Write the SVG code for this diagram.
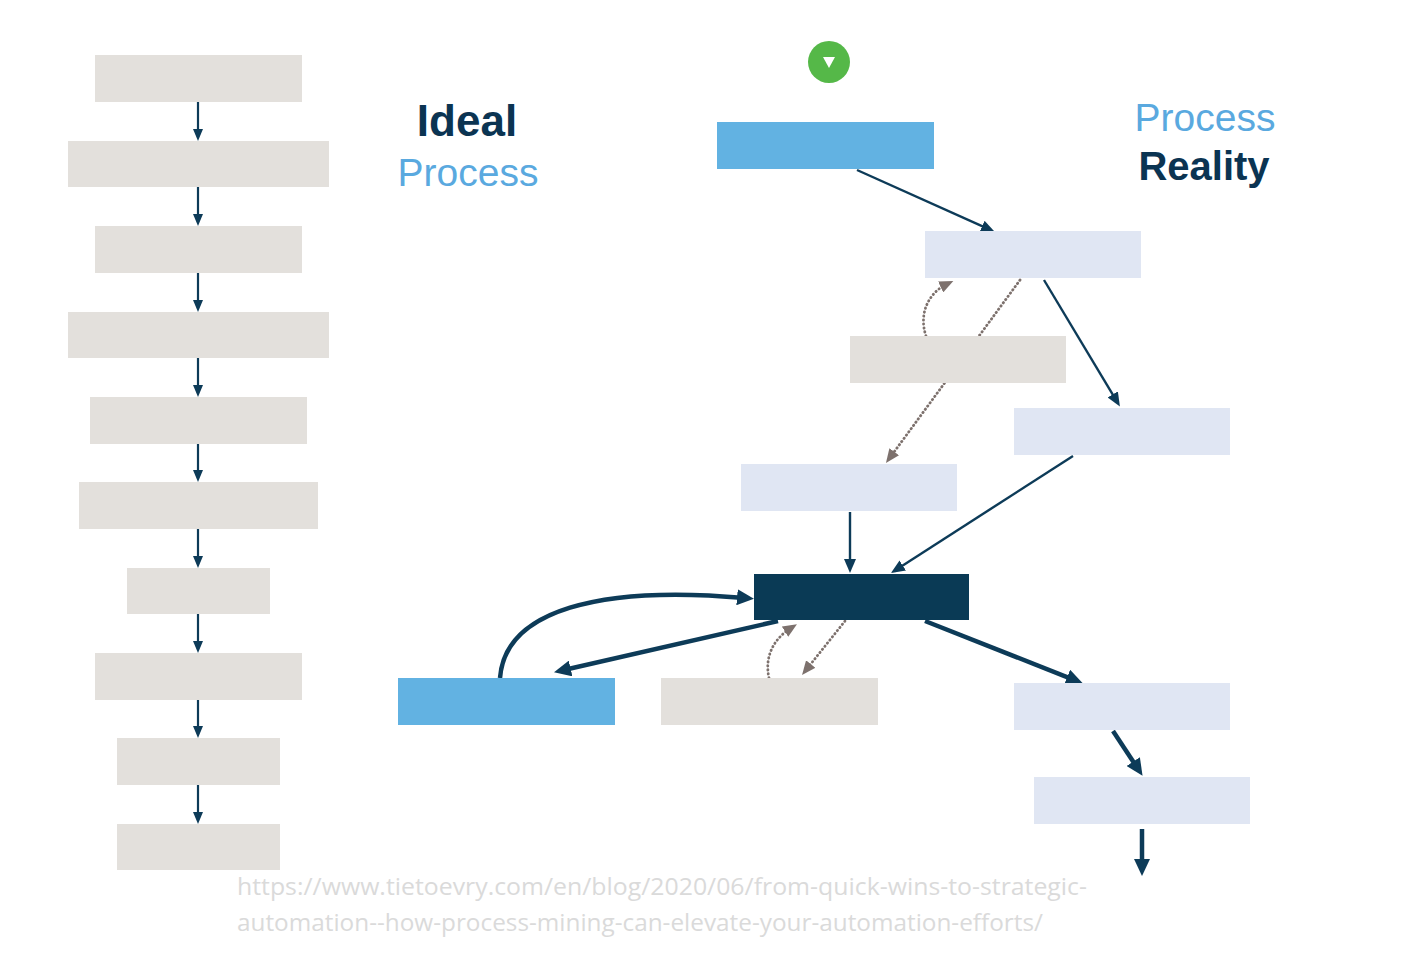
<svg xmlns="http://www.w3.org/2000/svg" width="1402" height="958" viewBox="0 0 1402 958">
<style>
.gray{fill:#E3E0DC}
.light{fill:#E0E6F3}
.blue{fill:#62B2E2}
.dark{fill:#0A3A55}
.thin{fill:none;stroke:#0D3B58;stroke-width:2.2;marker-end:url(#mThin)}
.mid{fill:none;stroke:#0D3B58;stroke-width:2.4;marker-end:url(#mMid)}
.thick{fill:none;stroke:#0D3B58;stroke-width:4.5;marker-end:url(#mThick)}
.dot{fill:none;stroke:#7D716D;stroke-width:2.8;stroke-linecap:round;stroke-dasharray:0.4 3.6;marker-end:url(#mDot)}
.t-dark{font-family:"Liberation Sans",Arial,sans-serif;font-weight:bold;fill:#0B3452;text-anchor:middle}
.t-light{font-family:"Liberation Sans",Arial,sans-serif;fill:#5AA9DF;text-anchor:middle}
.url{font-family:"Open Sans","Noto Sans",sans-serif;font-size:23px;fill:#DADADA}
</style>
<defs>
<marker id="mThin" markerUnits="userSpaceOnUse" markerWidth="12" markerHeight="10" refX="6" refY="5" orient="auto"><path d="M0,0 L12,5 L0,10 z" fill="#0D3B58"/></marker>
<marker id="mMid" markerUnits="userSpaceOnUse" markerWidth="14" markerHeight="12" refX="6" refY="6" orient="auto"><path d="M0,0 L14,6 L0,12 z" fill="#0D3B58"/></marker>
<marker id="mThick" markerUnits="userSpaceOnUse" markerWidth="17" markerHeight="16" refX="8" refY="8" orient="auto"><path d="M0,0 L17,8 L0,16 z" fill="#0D3B58"/></marker>
<marker id="mDot" markerUnits="userSpaceOnUse" markerWidth="14" markerHeight="12" refX="7" refY="6" orient="auto"><path d="M0,0 L14,6 L0,12 z" fill="#7D716D"/></marker>
</defs>
<rect width="1402" height="958" fill="#FFFFFF"/>

<g id="connectors">
<path class="thin" d="M198,102 L198,135"/>
<path class="thin" d="M198,187 L198,220"/>
<path class="thin" d="M198,273 L198,306"/>
<path class="thin" d="M198,358 L198,391"/>
<path class="thin" d="M198,444 L198,476"/>
<path class="thin" d="M198,529 L198,562"/>
<path class="thin" d="M198,614 L198,647"/>
<path class="thin" d="M198,700 L198,732"/>
<path class="thin" d="M198,785 L198,818"/>

<path class="mid" d="M857,170 L987.6,228.7"/>
<path class="mid" d="M1044,280 L1115.8,399.6"/>
<path class="mid" d="M850,512 L850,565"/>
<path class="mid" d="M1073,456 L897.7,568.7"/>

<path class="thick" d="M778,621 L562.8,670.2"/>
<path class="thick" d="M500,678 C505,610 600,585 745,598"/>
<path class="thick" d="M925,621 L1074.6,680.1"/>
<path class="thick" d="M1113,731 L1137.6,768.3"/>
<path class="thick" d="M1142,829 L1142,867"/>

<path class="dot" d="M926,336 C918,312 930,292 947,284"/>
<path class="dot" d="M1020,280 L890.1,457.4"/>
<path class="dot" d="M769,678 C764,655 775,638 791,628"/>
<path class="dot" d="M845,621 L806.4,669.5"/>
</g>

<g id="ideal-1"><rect class="gray" x="95" y="55" width="207" height="47"/></g>
<g id="ideal-2"><rect class="gray" x="68" y="141" width="261" height="46"/></g>
<g id="ideal-3"><rect class="gray" x="95" y="226" width="207" height="47"/></g>
<g id="ideal-4"><rect class="gray" x="68" y="312" width="261" height="46"/></g>
<g id="ideal-5"><rect class="gray" x="90" y="397" width="217" height="47"/></g>
<g id="ideal-6"><rect class="gray" x="79" y="482" width="239" height="47"/></g>
<g id="ideal-7"><rect class="gray" x="127" y="568" width="143" height="46"/></g>
<g id="ideal-8"><rect class="gray" x="95" y="653" width="207" height="47"/></g>
<g id="ideal-9"><rect class="gray" x="117" y="738" width="163" height="47"/></g>
<g id="ideal-10"><rect class="gray" x="117" y="824" width="163" height="46"/></g>

<g id="title-ideal">
<text class="t-dark" x="467" y="136" font-size="44">Ideal</text>
<text class="t-light" x="468" y="186" font-size="39">Process</text>
</g>
<g id="title-reality">
<text class="t-light" x="1205" y="131" font-size="39">Process</text>
<text class="t-dark" x="1204" y="180" font-size="40">Reality</text>
</g>

<g id="start">
<circle cx="829" cy="62" r="21" fill="#55B848"/>
<path d="M823,57 L835,57 L829,68 z" fill="#FFFFFF"/>
</g>
<g id="r-start"><rect class="blue" x="717" y="122" width="217" height="47"/></g>
<g id="r-a"><rect class="light" x="925" y="231" width="216" height="47"/></g>
<g id="r-b"><rect class="gray" x="850" y="336" width="216" height="47"/></g>
<g id="r-c"><rect class="light" x="1014" y="408" width="216" height="47"/></g>
<g id="r-d"><rect class="light" x="741" y="464" width="216" height="47"/></g>
<g id="r-e"><rect class="dark" x="754" y="574" width="215" height="46"/></g>
<g id="r-f"><rect class="blue" x="398" y="678" width="217" height="47"/></g>
<g id="r-g"><rect class="gray" x="661" y="678" width="217" height="47"/></g>
<g id="r-h"><rect class="light" x="1014" y="683" width="216" height="47"/></g>
<g id="r-i"><rect class="light" x="1034" y="777" width="216" height="47"/></g>

<g id="source">
<text class="url" x="237" y="895" textLength="850" lengthAdjust="spacingAndGlyphs">https://www.tietoevry.com/en/blog/2020/06/from-quick-wins-to-strategic-</text>
<text class="url" x="237" y="931" textLength="806" lengthAdjust="spacingAndGlyphs">automation--how-process-mining-can-elevate-your-automation-efforts/</text>
</g>
</svg>
